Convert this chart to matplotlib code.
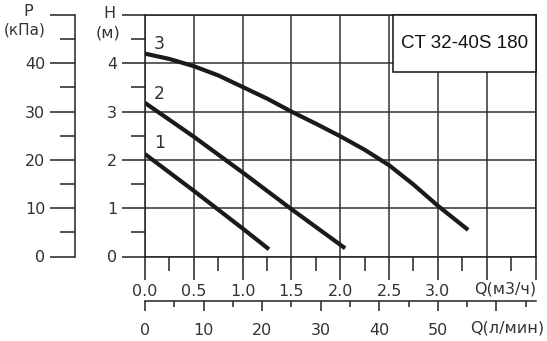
import numpy as np
import matplotlib
matplotlib.use("Agg")
import matplotlib.pyplot as plt
from matplotlib.patches import Rectangle

# pump curves, Q in m3/h, H in m
curve1_q = [0.0, 0.5, 1.0, 1.27]
curve1_h = [2.12, 1.36, 0.58, 0.15]
curve2_q = [0.0, 0.5, 1.0, 1.5, 2.05]
curve2_h = [3.18, 2.48, 1.74, 0.98, 0.17]
curve3_q = [0.0, 0.25, 0.5, 0.75, 1.0, 1.25, 1.5, 1.75, 2.0, 2.25, 2.5, 2.75, 3.0, 3.31]
curve3_h = [4.20, 4.09, 3.94, 3.75, 3.51, 3.27, 3.00, 2.75, 2.49, 2.21, 1.89, 1.49, 1.05, 0.55]
curve_names = ["1", "2", "3"]
curve_label_h = [2.35, 3.37, 4.40]

q_ticks = [0.0, 0.5, 1.0, 1.5, 2.0, 2.5, 3.0, 3.5, 4.0]
q_labels = ["0.0", "0.5", "1.0", "1.5", "2.0", "2.5", "3.0", "", ""]
h_ticks = [0, 1, 2, 3, 4, 5]
h_labels = ["0", "1", "2", "3", "4", ""]
p_ticks = [0, 10, 20, 30, 40, 50]
p_labels = ["0", "10", "20", "30", "40", ""]
lmin_ticks = [0, 10, 20, 30, 40, 50, 60]
lmin_labels = ["0", "10", "20", "30", "40", "50", ""]
model = "CT 32-40S 180"

W, H = 547, 341
txt = "#333333"
fs = 11.5

fig = plt.figure(figsize=(W / 100, H / 100), dpi=100)

x0, x1 = 145, 535.5
y0, y1 = 256.5, 15
ax = fig.add_axes([x0 / W, (H - y0) / H, (x1 - x0) / W, (y0 - y1) / H])
ax.set_xlim(0, 4)
ax.set_ylim(0, 5)

for s in ["top", "right", "left", "bottom"]:
    ax.spines[s].set_color("#222222")
    ax.spines[s].set_linewidth(1.1)

ax.set_xticks(q_ticks)
ax.set_xticklabels(q_labels)
ax.set_xticks(np.arange(0.25, 4, 0.5), minor=True)
ax.set_yticks(h_ticks)
ax.set_yticklabels(h_labels)
ax.set_yticks(np.arange(0.5, 5, 1.0), minor=True)
ax.tick_params(axis="both", which="major", direction="out", length=16.5, width=1.1,
               color="#222222", labelsize=fs, labelcolor=txt, pad=3.5)
ax.tick_params(axis="both", which="minor", direction="out", length=10, width=1.1,
               color="#222222")
ax.grid(True, which="major", color="#333333", linewidth=1.1, zorder=0)

# model box
ax.add_patch(Rectangle((2.54, 3.82), 1.46, 1.18, facecolor="white", edgecolor="#111111",
                       linewidth=1.1, zorder=3, clip_on=False))
ax.text(3.27, 4.42, model, ha="center", va="center", fontsize=13.5, color="#111111",
        family="Liberation Sans", zorder=4)

for q, h in [(curve1_q, curve1_h), (curve2_q, curve2_h), (curve3_q, curve3_h)]:
    ax.plot(q, h, color="#1a1a1a", linewidth=3.0, solid_capstyle="butt",
            solid_joinstyle="round", zorder=5)
for name, hl in zip(curve_names, curve_label_h):
    ax.text(0.15, hl, name, ha="center", va="center", fontsize=fs + 1, color=txt)

ax.text(3.69, -0.68, "Q(м3/ч)", ha="center", va="center", fontsize=fs, color=txt,
        clip_on=False)
ax.text(-0.36, 5.04, "H", ha="center", va="center", fontsize=fs, color=txt)
ax.text(-0.38, 4.63, "(м)", ha="center", va="center", fontsize=fs, color=txt)

# pressure axis
axp = fig.add_axes([75 / W, (H - y0) / H, 0.0001, (y0 - y1) / H])
axp.set_ylim(0, 50)
for s in ["top", "right", "bottom"]:
    axp.spines[s].set_visible(False)
axp.spines["left"].set_color("#222222")
axp.spines["left"].set_linewidth(1.1)
axp.set_xticks([])
axp.set_yticks(p_ticks)
axp.set_yticklabels(p_labels)
axp.set_yticks(np.arange(5, 50, 10), minor=True)
axp.tick_params(axis="y", which="major", direction="out", length=18, width=1.1,
                color="#222222", labelsize=fs, labelcolor=txt, pad=3.5)
axp.tick_params(axis="y", which="minor", direction="out", length=11, width=1.1,
                color="#222222")
fig.text(28 / W, (H - 11) / H, "P", ha="center", va="center", fontsize=fs, color=txt)
fig.text(25 / W, (H - 30) / H, "(кПа)", ha="center", va="center", fontsize=fs - 0.5,
         color=txt)

# flow axis in l/min
yl = 301
axl = fig.add_axes([x0 / W, (H - yl) / H, (x1 - x0) / W, 0.0001])
axl.set_xlim(0, 4 * 1000 / 60)
for s in ["top", "right", "left"]:
    axl.spines[s].set_visible(False)
axl.spines["bottom"].set_color("#222222")
axl.spines["bottom"].set_linewidth(1.1)
axl.set_yticks([])
axl.set_xticks(lmin_ticks)
axl.set_xticklabels(lmin_labels)
axl.set_xticks(np.arange(5, 66, 10), minor=True)
axl.tick_params(axis="x", which="major", direction="out", length=7.5, width=1.1,
                color="#222222", labelsize=fs, labelcolor=txt, pad=8)
axl.tick_params(axis="x", which="minor", direction="out", length=4.5, width=1.1,
                color="#222222")
fig.text(507 / W, (H - 328) / H, "Q(л/мин)", ha="center", va="center", fontsize=fs,
         color=txt)

fig.savefig("out.png", dpi=100)
